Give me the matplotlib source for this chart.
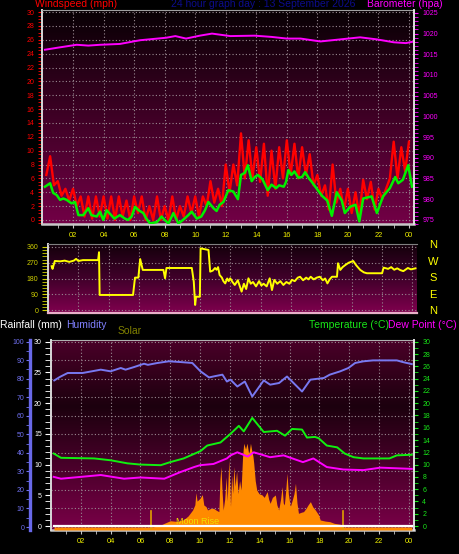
import numpy as np
import matplotlib
matplotlib.use('Agg')
import matplotlib.pyplot as plt
from matplotlib.colors import LinearSegmentedColormap
from matplotlib.ticker import MultipleLocator, FixedLocator

plt.rcParams['font.family'] = ['Liberation Sans', 'DejaVu Sans']

# ---- wind speed (mph) ----
avg_t = [0.16, 0.5, 0.7, 0.93, 1.15, 1.36, 1.58, 1.9, 2.13, 2.35, 2.67, 3.0, 3.2, 3.55, 3.77, 3.98,
         4.2, 4.5, 4.7, 5.07, 5.4, 5.6, 5.84, 6.06, 6.3, 6.6, 6.8, 7.04, 7.5, 7.8, 8.0, 8.25, 8.57,
         8.9, 9.2, 9.55, 9.77, 10.1, 10.4, 10.64, 10.86, 11.2, 11.4, 11.6, 11.85, 12.17, 12.5, 12.8,
         13.0, 13.25, 13.45, 13.7, 13.9, 14.1, 14.4, 14.75, 15.0, 15.3, 15.5, 15.8, 15.95, 16.1, 16.3,
         16.5, 16.75, 17.0, 17.2, 17.45, 17.6, 17.9, 18.3, 18.65, 18.95, 19.27, 19.6, 19.8, 20.14,
         20.5, 20.75, 21.0, 21.55, 21.9, 22.3, 22.75, 23.1, 23.3, 23.6, 23.95, 24.2]
avg_mph = [4.8, 5.3, 3.9, 3.6, 2.9, 3.1, 2.9, 2.4, 2.6, 0.7, 0.7, 1.7, 0.7, 0.5, 1.2, 0.0,
           1.4, 0.7, 0.2, 0.7, 0.2, 0.0, 0.5, 1.9, 1.4, 1.0, 0.2, -0.5, -0.3, 0.5, 0.0, -0.5, 1.0,
           -0.5, 0.0, 0.7, 1.2, 0.2, 0.5, 1.4, 2.6, 1.7, 1.3, 2.2, 2.6, 4.3, 4.1, 3.0,
           6.5, 6.8, 7.9, 5.6, 6.2, 6.5, 5.9, 4.3, 5.1, 4.6, 5.0, 4.8, 5.5, 7.2, 6.5,
           7.0, 6.1, 6.2, 6.9, 6.0, 5.6, 4.7, 3.5, 2.8, 0.6, 4.0, 2.8, 1.0, 1.9,
           2.2, -0.2, 3.1, 3.4, 1.0, 3.4, 4.6, 6.2, 5.3, 5.8, 7.9, 4.8]
gust_t = np.arange(0.25, 24.01, 0.25)
gust_mph = [6.5, 9.2, 5.0, 5.6, 3.5, 4.5, 2.8, 4.5, 2.0, 3.4, 0.5, 3.4, 0.2, 3.4, 0.5, 3.4,
            0.2, 3.4, 0.0, 3.4, 0.5, 2.8, 0.0, 3.4, 1.0, 3.4, 0.0, 2.0, 0.0, 3.4, 0.0, 2.0,
            0.0, 3.4, 0.0, 2.0, 0.5, 3.4, 1.0, 3.4, 0.5, 3.4, 2.0, 5.6, 2.5, 4.5, 2.0, 8.0,
            4.0, 8.0, 5.0, 12.5, 6.0, 11.5, 6.0, 10.5, 5.5, 11.0, 3.5, 10.0, 4.5, 10.5, 6.0, 11.5,
            6.5, 11.0, 6.0, 10.5, 6.5, 9.5, 5.0, 6.5, 3.5, 5.0, 1.5, 8.0, 2.5, 4.5, 1.5, 4.5,
            1.0, 4.0, 0.5, 5.8, 3.0, 5.5, 1.5, 4.5, 3.0, 4.5, 6.0, 11.3, 6.0, 10.5, 7.0, 11.3]

# ---- barometer (hPa) ----
baro_t = [0.16, 1.0, 2.24, 3.0, 3.77, 5.07, 6.4, 8.1, 8.7, 9.4, 10.3, 11.1, 12.3, 13.9, 15.0,
          16.0, 16.9, 18.2, 19.5, 20.8, 21.9, 23.0, 23.8, 24.2]
baro_hpa = [1016.1, 1016.6, 1017.3, 1017.1, 1017.3, 1017.5, 1018.4, 1019.0, 1019.4, 1018.8, 1019.5,
            1020.0, 1019.4, 1019.5, 1019.2, 1018.8, 1018.8, 1018.1, 1018.6, 1019.1, 1018.6, 1017.9,
            1017.7, 1018.0]

# ---- wind direction (deg) ----
dir_t = [0.24, 0.3, 0.45, 0.8, 1.1, 1.4, 1.7, 1.85, 2.0, 2.3, 3.3, 3.36, 3.4, 5.6, 5.73, 5.95,
         6.07, 6.24, 7.6, 7.71, 7.8, 9.47, 9.6, 9.69, 9.75, 10.0, 10.05, 10.57, 10.68, 10.85, 11.0,
         11.1, 11.2, 11.3, 11.45, 11.55, 11.67, 11.8, 11.9, 12.0, 12.15, 12.3, 12.5, 12.75, 12.9,
         13.05, 13.2, 13.35, 13.5, 13.7, 13.9, 14.05, 14.2, 14.4, 14.6, 14.75, 14.9, 15.1, 15.3,
         15.5, 15.7, 15.9, 16.06, 16.25, 16.45, 16.6, 16.8, 17.0, 17.15, 17.3, 17.5, 17.7, 17.9,
         18.1, 18.25, 18.4, 18.55, 18.7, 19.03, 19.1, 19.25, 19.4, 19.58, 19.8, 20.1, 20.3, 20.56,
         20.8, 21.0, 22.0, 22.1, 22.4, 22.6, 22.8, 23.0, 23.2, 23.4, 23.7, 23.9, 24.2]
dir_deg = [250, 235, 280, 278, 282, 275, 282, 292, 280, 285, 285, 330, 86, 86, 185, 185,
           291, 229, 229, 181, 240, 240, 162, 29, 76, 76, 352, 343, 219, 225, 240,
           230, 245, 200, 185, 165, 152, 180, 165, 181, 160, 143, 170, 105, 150,
           120, 181, 150, 160, 135, 165, 140, 150, 135, 181, 114, 172, 150, 165,
           143, 160, 150, 172, 165, 185, 190, 170, 185, 175, 190, 175, 185, 190,
           170, 180, 152, 175, 190, 190, 267, 229, 245, 257, 270, 280, 255, 229,
           215, 210, 210, 242, 235, 245, 230, 238, 228, 222, 240, 232, 238]

# ---- humidity (%), temperature / dew point (C), solar (W/m2), rain (mm) ----
hum_t = [0.22, 0.6, 1.12, 2.12, 3.34, 4.0, 4.68, 5.0, 5.57, 6.24, 6.5, 7.14, 7.9, 8.7, 9.48,
         10.03, 10.6, 11.0, 11.5, 11.8, 12.04, 12.5, 13.0, 13.5, 14.27, 14.7, 15.3, 15.83, 16.27,
         16.84, 17.4, 18.3, 18.7, 19.4, 19.95, 20.4, 20.96, 21.6, 23.2, 23.6, 24.2]
hum_pct = [79.1, 81.0, 83.1, 83.1, 84.9, 84.0, 85.8, 84.9, 86.3, 88.1, 87.5, 88.5, 89.4, 89.0, 88.5,
           84.0, 80.7, 81.4, 82.2, 78.5, 79.5, 75.8, 78.5, 70.4, 79.1, 76.8, 77.7, 81.2, 77.7,
           73.1, 79.5, 80.4, 82.2, 84.0, 85.8, 88.5, 89.4, 89.9, 89.9, 89.0, 87.9]
temp_t = [0.18, 0.67, 2.9, 4.0, 5.13, 6.0, 7.36, 8.0, 8.9, 10.03, 10.48, 11.37, 12.04, 12.6, 12.93,
          13.5, 14.27, 15.16, 15.7, 16.17, 16.84, 17.17, 17.7, 17.95, 18.5, 19.2, 19.7, 20.3,
          20.96, 22.7, 23.2, 24.2]
temp_c = [11.8, 11.1, 11.0, 10.7, 10.2, 10.0, 9.9, 10.4, 11.0, 12.2, 13.1, 13.6, 15.0, 16.3, 15.4,
          17.6, 15.3, 15.5, 14.7, 15.8, 15.7, 14.4, 14.5, 14.3, 13.1, 12.8, 11.8, 11.2,
          11.0, 11.0, 11.5, 11.6]
dew_t = [0.18, 0.67, 3.34, 4.9, 6.0, 7.6, 8.7, 9.6, 10.0, 10.9, 11.8, 12.04, 12.5, 13.2, 13.6,
         14.7, 15.6, 16.9, 17.6, 18.5, 19.6, 20.96, 22.1, 24.2]
dew_c = [8.0, 7.7, 8.3, 7.7, 7.9, 7.7, 8.8, 9.6, 9.9, 10.1, 11.0, 11.5, 12.0, 11.3, 12.0,
         11.2, 11.5, 10.4, 11.0, 9.6, 9.2, 9.1, 9.5, 9.3]
solar_t = [0.2, 6.7, 7.2, 7.6, 8.0, 8.5, 8.9, 9.2, 9.5, 9.65, 9.72, 9.8, 10.0, 10.15, 10.25, 10.4,
           10.5, 10.7, 10.9, 11.1, 11.26, 11.33, 11.4, 11.47, 11.55, 11.65, 11.75, 11.82, 11.93,
           12.0, 12.04, 12.12, 12.2, 12.26, 12.35, 12.45, 12.55, 12.65, 12.75, 12.85, 12.93, 13.05,
           13.15, 13.25, 13.3, 13.38, 13.45, 13.55, 13.6, 13.7, 13.8, 13.95, 14.16, 14.3, 14.5,
           14.6, 14.7, 14.85, 15.05, 15.15, 15.27, 15.4, 15.5, 15.58, 15.65, 15.75, 15.83, 15.92,
           16.05, 16.2, 16.3, 16.4, 16.5, 16.6, 16.8, 16.94, 17.1, 17.25, 17.4, 17.55, 17.73,
           17.95, 18.06, 18.4, 18.7, 19.0, 19.4, 19.6, 24.2]
solar_wm2 = [0, 0, 5, 20, 34, 30, 40, 60, 92, 120, 185, 140, 155, 175, 119, 110,
             92, 100, 101, 90, 83, 250, 326, 200, 92, 150, 270, 140, 362,
             200, 110, 280, 180, 326, 220, 300, 180, 250, 200, 380, 452, 420,
             452, 400, 407, 452, 420, 380, 344, 250, 200, 180, 173, 160, 191,
             150, 128, 160, 173, 120, 92, 150, 218, 130, 119, 200, 290, 180,
             110, 150, 180, 236, 130, 74, 80, 83, 100, 120, 137, 110, 92,
             65, 38, 32, 29, 20, 15, 0, 0]
rain_t = [0.2, 24.2]
rain_mm = [0, 0]
sun_marks = [6.7, 19.6]

hour_ticks = list(range(2, 25, 2))
hour_labels = ['%02d' % (h % 24) for h in hour_ticks]

W, H = 460, 554
fig = plt.figure(figsize=(W / 100, H / 100), dpi=100, facecolor='black')


def box(l, t, r, b):
    return [l / W, 1 - b / H, (r - l) / W, (b - t) / H]


def ftext(x, y, s, color, size, ha='left'):
    fig.text(x / W, 1 - y / H, s, color=color, fontsize=size, ha=ha, va='center')


def gradient(ax, stops):
    cmap = LinearSegmentedColormap.from_list('bg', stops)
    ax.imshow(np.linspace(0, 1, 256).reshape(-1, 1), cmap=cmap, aspect='auto',
              extent=[0, 1, 0, 1], transform=ax.transAxes, origin='upper', zorder=0)


def dotted_grid(ax):
    ax.grid(True, which='major', color='#9a8a92', linestyle=(0, (1, 2)), linewidth=0.8)


def only_spine(ax, keep):
    for name, sp in ax.spines.items():
        sp.set_visible(name in keep)


grey = '#c8c8c8'
xlab = '#f0f000'

# ================= panel 1: wind speed + barometer =================
ax1 = fig.add_axes(box(42.5, 10, 414, 224))
gradient(ax1, [(0, '#080004'), (0.45, '#3a0022'), (1, '#720046')])
ax1.plot(gust_t, gust_mph, color='#ff0000', lw=1.7, zorder=3)
ax1.plot(avg_t, avg_mph, color='#00f000', lw=1.8, zorder=4)
ax1.set_xlim(0, 24.33)
ax1.set_ylim(-0.58, 30.3)
ax1.yaxis.set_major_locator(MultipleLocator(2))
ax1.yaxis.set_minor_locator(MultipleLocator(0.5))
ax1.set_xticks(hour_ticks)
ax1.set_xticklabels(hour_labels)
ax1.xaxis.set_minor_locator(FixedLocator(range(1, 25, 2)))
dotted_grid(ax1)
ax1.tick_params(axis='y', which='both', colors='#ff0000', labelsize=5, length=3, pad=3)
ax1.tick_params(axis='x', which='both', colors=grey, labelcolor=xlab, labelsize=5.4, length=3, pad=3)
only_spine(ax1, ['left', 'bottom', 'top'])
ax1.spines['left'].set_color('#d8d8d8')
ax1.spines['left'].set_linewidth(1.4)
ax1.spines['bottom'].set_color(grey)
ax1.spines['bottom'].set_linewidth(1.8)
ax1.spines['top'].set_color('#a0a0a0')
ax1.spines['top'].set_linewidth(0.8)

ax1b = ax1.twinx()
ax1b.plot(baro_t, baro_hpa, color='#ff00ff', lw=1.4)
ax1b.set_ylim(974.0, 1025.7)
ax1b.set_xlim(0, 24.33)
ax1b.set_yticks(range(975, 1026, 5))
ax1b.yaxis.set_minor_locator(MultipleLocator(1))
ax1b.tick_params(axis='y', which='both', colors='#ff00ff', labelsize=5, length=3, pad=3)
only_spine(ax1b, ['right'])
ax1b.spines['right'].set_color('#e0e0e0')
ax1b.spines['right'].set_linewidth(1.4)

ftext(35, 4, 'Windspeed (mph)', '#ff0000', 7.5)
ftext(171, 4, '24 hour graph day : 13 September 2026', '#0c0c8c', 7.5)
ftext(367, 4, 'Barometer (hpa)', '#ff00ff', 7.5)

# ================= panel 2: wind direction =================
ax2 = fig.add_axes(box(48, 244, 417, 313))
gradient(ax2, [(0, '#12000a'), (0.5, '#40002a'), (1, '#80004e')])
ax2.plot(dir_t, dir_deg, color='#ffff00', lw=1.4, zorder=3)
ax2.set_xlim(0, 24.3)
ax2.set_ylim(-17, 377)
ax2.set_yticks([0, 90, 180, 270, 360])
ax2.yaxis.set_minor_locator(MultipleLocator(18))
ax2.set_xticks(hour_ticks)
dotted_grid(ax2)
ax2.tick_params(axis='y', which='both', colors='#d0d000', labelsize=5, length=4, pad=3)
ax2.tick_params(axis='x', which='both', length=0, labelbottom=False)
only_spine(ax2, ['left', 'top', 'bottom'])
ax2.spines['left'].set_color('#d8d8d8')
ax2.spines['left'].set_linewidth(1.4)
ax2.spines['top'].set_color('#808080')
ax2.spines['top'].set_linewidth(0.8)
ax2.spines['bottom'].set_color('#e8b0c8')
ax2.spines['bottom'].set_linewidth(1.6)

for lab, yy in zip(['N', 'W', 'S', 'E', 'N'], [245, 262, 278, 295, 311]):
    ftext(433, yy, lab, '#ffff00', 8, ha='center')

# ================= panel 3: humidity / solar / temperature =================
ax3 = fig.add_axes(box(51, 340, 414, 530))
gradient(ax3, [(0, '#4a0028'), (0.35, '#1c000e'), (1, '#7a0048')])
ax3.plot(hum_t, hum_pct, color='#7878f0', lw=1.4, zorder=3)
ax3.set_xlim(0, 24.35)
ax3.set_ylim(-1.6, 100.9)
ax3.set_yticks(range(0, 101, 10))
ax3.yaxis.set_minor_locator(MultipleLocator(5))
ax3.set_xticks(hour_ticks)
ax3.set_xticklabels(hour_labels)
ax3.xaxis.set_minor_locator(FixedLocator(range(1, 25, 2)))
dotted_grid(ax3)
ax3.tick_params(axis='y', which='both', colors='#7070f0', labelsize=5, length=3, pad=1.5)
ax3.tick_params(axis='x', which='both', colors=grey, labelcolor=xlab, labelsize=5.4, length=3, pad=3)
only_spine(ax3, ['left', 'bottom', 'top'])
ax3.spines['left'].set_position(('outward', 14.8))
ax3.spines['left'].set_color('#6868e8')
ax3.spines['left'].set_linewidth(2.4)
ax3.spines['bottom'].set_color(grey)
ax3.spines['bottom'].set_linewidth(1.8)
ax3.spines['top'].set_color('#b0b0b0')
ax3.spines['top'].set_linewidth(0.8)

ax3s = ax3.twinx()
ax3s.fill_between(solar_t, -16, solar_wm2, color='#ff8a00', lw=0)
for h in sun_marks:
    ax3s.axvline(h, ymin=0, ymax=0.1, color='#e0a000', lw=1.2)
ax3s.set_ylim(-16, 1009)
ax3s.set_xlim(0, 24.35)
ax3s.set_yticks([])
only_spine(ax3s, [])

ax3r = ax3.twinx()
ax3r.yaxis.tick_left()
ax3r.plot(rain_t, rain_mm, color='white', lw=1.6)
ax3r.set_ylim(-0.65, 30.28)
ax3r.set_xlim(0, 24.35)
ax3r.set_yticks(range(0, 31, 5))
ax3r.yaxis.set_minor_locator(MultipleLocator(1))
ax3r.tick_params(axis='y', which='both', colors='white', labelsize=5, length=4, pad=2.5)
only_spine(ax3r, ['left'])
ax3r.spines['left'].set_color('#d8d8d8')
ax3r.spines['left'].set_linewidth(1.4)

ax3t = ax3.twinx()
ax3t.plot(temp_t, temp_c, color='#10f010', lw=1.4)
ax3t.plot(dew_t, dew_c, color='#ff00ff', lw=1.4)
ax3t.set_ylim(-0.65, 30.28)
ax3t.set_xlim(0, 24.35)
ax3t.set_yticks(range(0, 31, 2))
ax3t.yaxis.set_minor_locator(MultipleLocator(1))
ax3t.tick_params(axis='y', which='both', colors='#19e619', labelsize=5, length=3, pad=3)
only_spine(ax3t, ['right'])
ax3t.spines['right'].set_color('#e0e0e0')
ax3t.spines['right'].set_linewidth(1.4)

ftext(0, 325, 'Rainfall (mm)', 'white', 7.5)
ftext(66, 325, 'Humidity', '#8080ff', 7.5)
ftext(118, 331, 'Solar', '#808000', 7.5)
ftext(309, 325, 'Temperature (\u00b0C)', '#19e619', 7.5)
ftext(388, 325, 'Dew Point (\u00b0C)', '#ff00ff', 7.5)
ftext(176, 521, 'Moon Rise', '#f0e000', 6.5)

fig.savefig('out.png', dpi=100, facecolor='black')
